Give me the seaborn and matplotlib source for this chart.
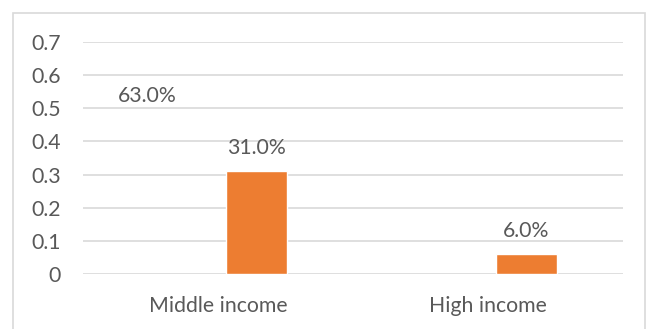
import pandas as pd
import matplotlib.pyplot as plt
import seaborn as sns
from matplotlib.patches import Rectangle

categories = ['Middle income', 'High income']
series_names = ['Series1', 'Series2']
series1_values = [0.63, 0.0]   # this series has no visible fill in the chart
series2_values = [0.31, 0.06]
y_ticks = [0, 0.1, 0.2, 0.3, 0.4, 0.5, 0.6, 0.7]
y_tick_labels = ['0', '0.1', '0.2', '0.3', '0.4', '0.5', '0.6', '0.7']

df = pd.DataFrame({
    'Income': categories * 2,
    'Series': [series_names[0]] * 2 + [series_names[1]] * 2,
    'Share': series1_values + series2_values,
})

sns.set_theme(style="white")
plt.rcParams['font.family'] = ['Lato', 'DejaVu Sans']
text_color = '#595959'
grid_color = '#D9D9D9'
fs = 15.3

fig = plt.figure(figsize=(6.54, 3.29), dpi=100)
ax = fig.add_axes([83 / 654, 1 - 274 / 329, 540 / 654, 232 / 329])

sns.barplot(data=df, x='Income', y='Share', hue='Series',
            palette=['#ffffff', '#ED7D31'], saturation=1, width=0.57, gap=0.2,
            ax=ax, legend=False, zorder=3)

# first series is drawn without fill
for bar in ax.containers[0]:
    bar.set_visible(False)

ax.set_xlim(-0.5, 1.5)
ax.set_ylim(0, 0.7)
ax.set_yticks(y_ticks)
ax.set_yticklabels(y_tick_labels)
ax.set_xlabel('')
ax.set_ylabel('')
ax.tick_params(axis='y', length=0, pad=16, labelsize=fs, labelcolor=text_color)
ax.tick_params(axis='x', length=0, pad=16, labelsize=fs, labelcolor=text_color)
ax.grid(axis='y', color=grid_color, linewidth=1.2, zorder=0)
for s in ax.spines.values():
    s.set_visible(False)
ax.set_facecolor('white')

# data labels
containers = ax.containers
for bar, v in zip(containers[1], series2_values):
    x = bar.get_x() + bar.get_width() / 2
    ax.annotate(f'{v * 100:.1f}%', (x, v), xytext=(0, 17), textcoords='offset points',
                ha='center', va='center', fontsize=fs, color=text_color)
# the hidden series only shows its label for the first category
hb = containers[0][0]
ax.annotate(f'{series1_values[0] * 100:.1f}%',
            (hb.get_x() + hb.get_width() / 2, series1_values[0]),
            xytext=(-23, -22), textcoords='offset points',
            ha='center', va='center', fontsize=fs, color=text_color)

# chart border
fig.patches.append(Rectangle((13 / 654, -0.05), 632 / 654, 1 - 13 / 329 + 0.05,
                             transform=fig.transFigure, fill=False,
                             edgecolor=grid_color, linewidth=1.2))

fig.savefig('out.png', dpi=100, facecolor='white')
